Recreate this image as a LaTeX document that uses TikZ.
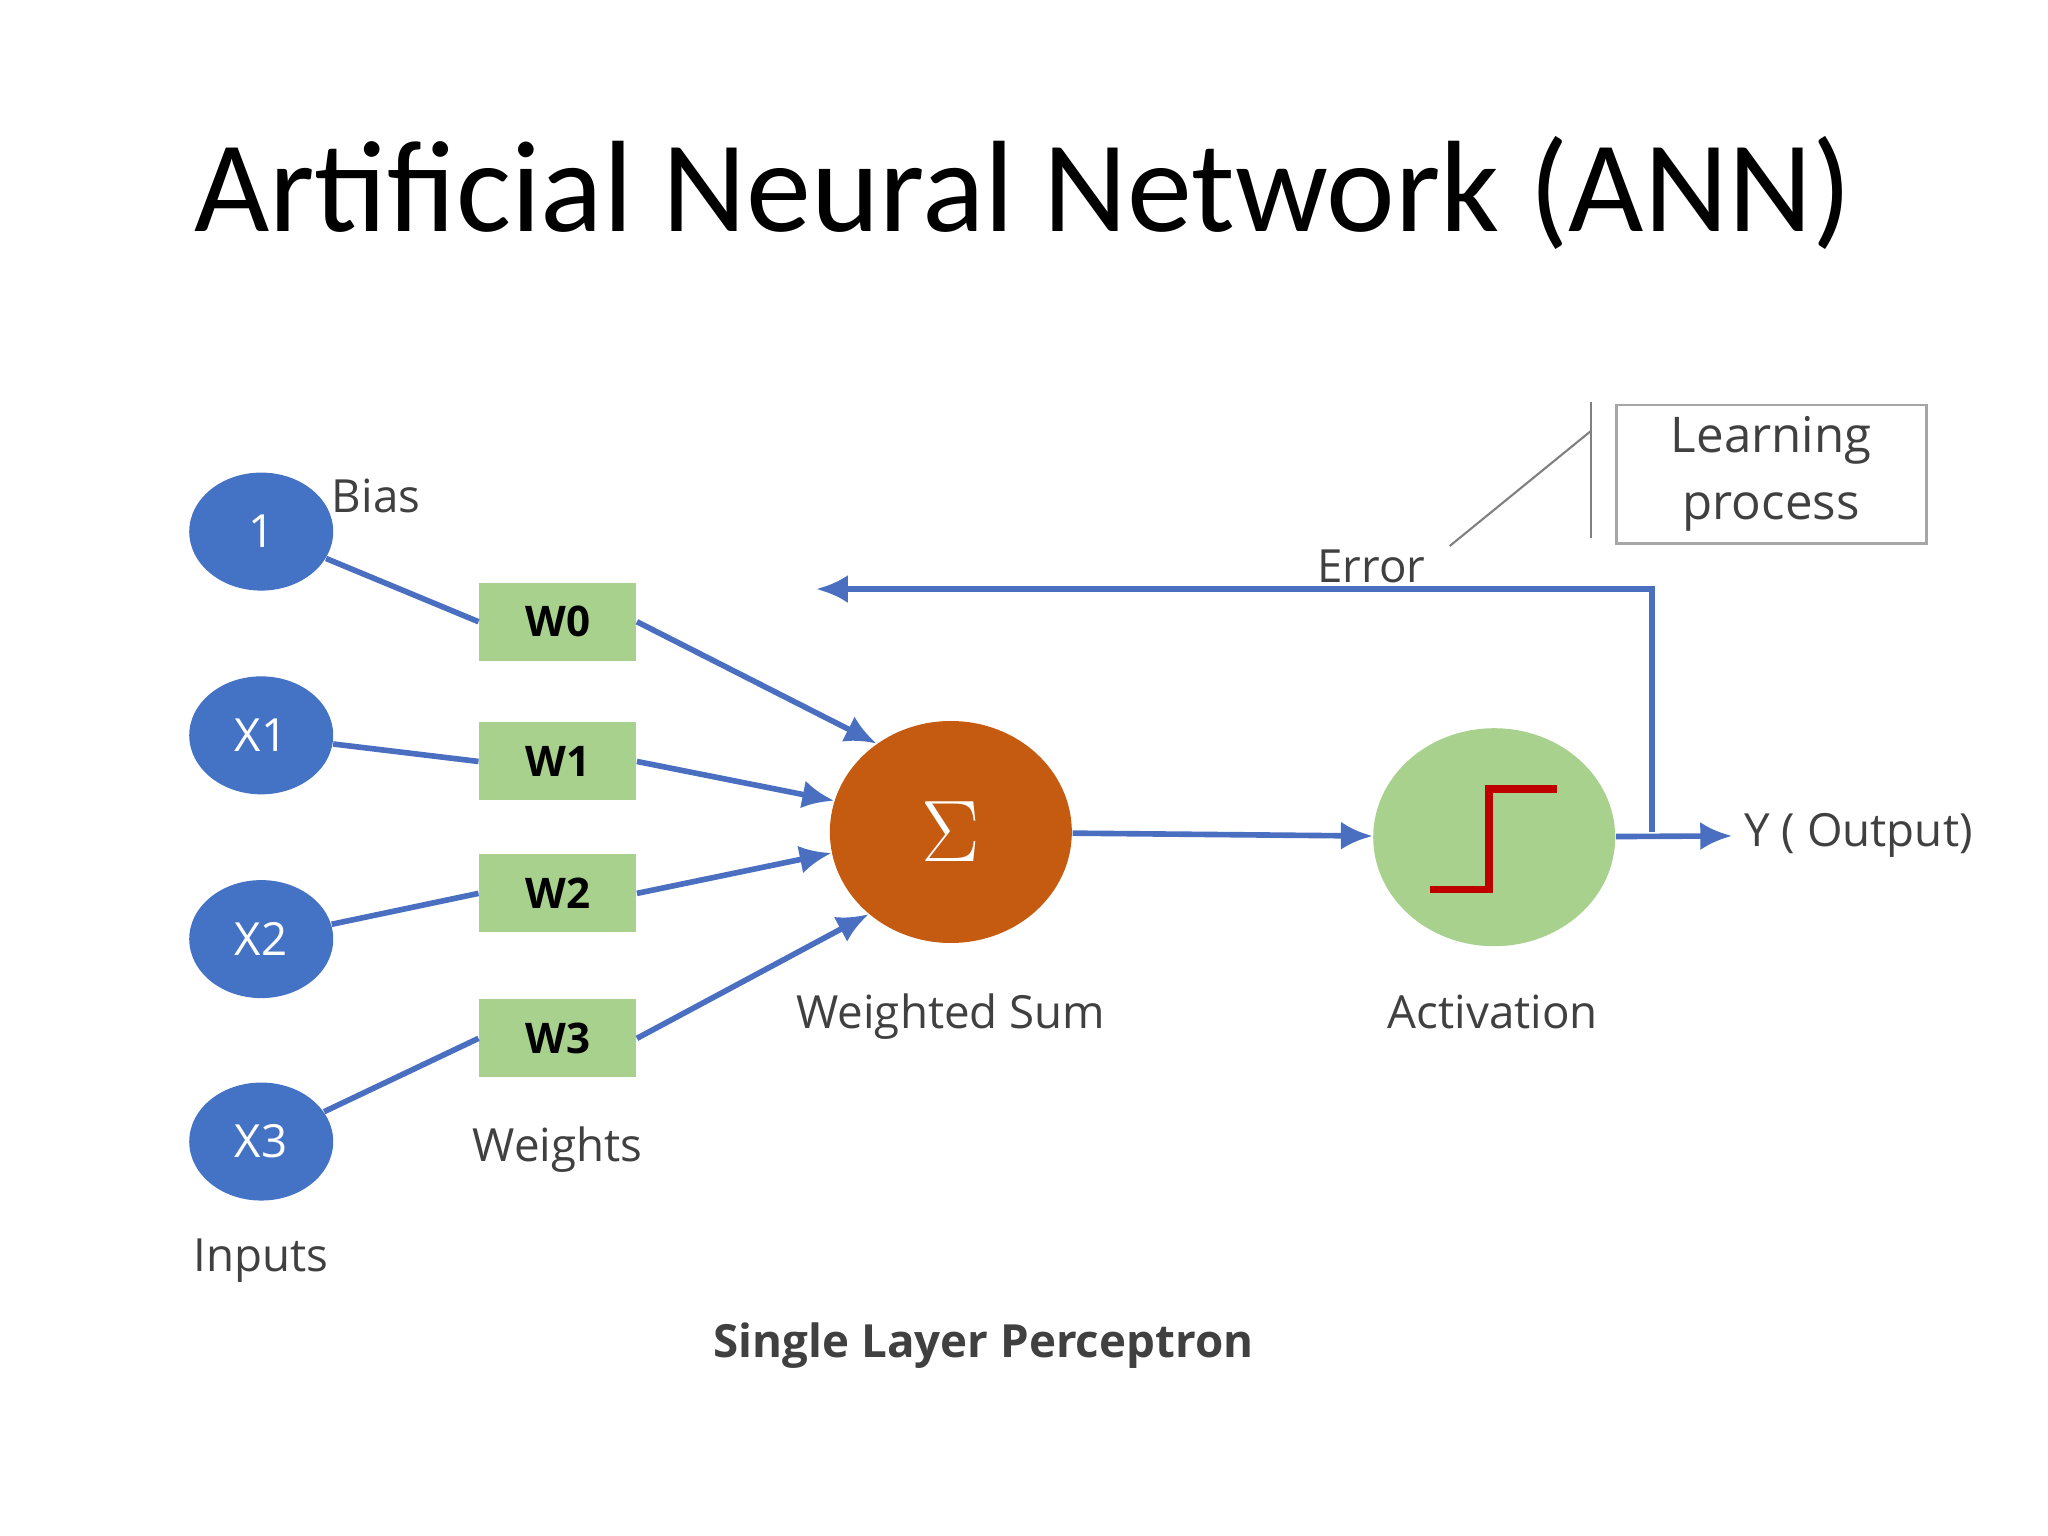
\documentclass[tikz,border=0pt]{standalone}
\usepackage{fontspec}
\setmainfont{Open Sans}
\newfontfamily\titlefont{Carlito}
\usetikzlibrary{shapes.geometric,arrows.meta}

\definecolor{inblue}{HTML}{4472C4}
\definecolor{wgreen}{HTML}{A9D18E}
\definecolor{sumorange}{HTML}{C55A11}
\definecolor{linkblue}{HTML}{4A6FC0}
\definecolor{lbl}{HTML}{404040}

\begin{document}
\begin{tikzpicture}[x=0.01306cm,y=-0.01306cm,
	innode/.style={ellipse, fill=inblue, minimum width=1.44cm, minimum height=1.18cm, text=white, font=\fontsize{13}{15}\selectfont},
	wnode/.style={rectangle, fill=wgreen, minimum width=1.57cm, minimum height=0.78cm, font=\bfseries\fontsize{12}{14}\selectfont},
	lbl/.style={text=lbl, font=\fontsize{13}{15}\selectfont},
	link/.style={linkblue, line width=1.6pt},
	arr/.style={link, -{Latex[length=9pt,width=8pt]}}
]
\useasboundingbox (0,0) rectangle (1568,1176);
\node[font=\titlefont\fontsize{37}{40}\selectfont] (title) at (783,148) {Artificial Neural Network (ANN)};

% inputs and weights
\node[innode] (b) at (200,407) {1};
\node[innode] (x1) at (200,563) {X1};
\node[innode] (x2) at (200,719) {X2};
\node[innode] (x3) at (200,874) {X3};
\node[wnode] (w0) at (427,476) {W0};
\node[wnode] (w1) at (427,583) {W1};
\node[wnode] (w2) at (427,684) {W2};
\node[wnode] (w3) at (427,795) {W3};

% sum and activation
\node[ellipse, fill=sumorange, minimum width=2.42cm, minimum height=2.22cm, text=white, font=\fontsize{40}{44}\selectfont] (sum) at (728,637) {$\Sigma$};
\node[ellipse, fill=wgreen, minimum width=2.42cm, minimum height=2.18cm] (act) at (1144,641) {};
\draw[red!75!black, line width=2.2pt] (1095,681) -- (1140,681) -- (1140,604) -- (1192,604);

\node[lbl, anchor=west] (out) at (1326,640) {Y ( Output)};
\coordinate (tap) at (1265,637);
\coordinate (back) at (625,451);

% labels
\node[lbl] (bias) at (288,380) {Bias};
\node[lbl] (wts) at (427,880) {Weights};
\node[lbl] (inp) at (200,965) {Inputs};
\node[lbl] (ws) at (728,778) {Weighted Sum};
\node[lbl] (actl) at (1143,775) {Activation};
\node[lbl] (err) at (1050,434) {Error};
\node[font=\bfseries\fontsize{13}{15}\selectfont, text=lbl] (slp) at (753,1030) {Single Layer Perceptron};
\node[draw=gray!70, line width=0.8pt, minimum width=3.1cm, minimum height=1.17cm, align=center, lbl, font=\fontsize{14}{19}\selectfont] (learn) at (1356,363) {Learning\\process};
\coordinate (c1) at (1110,418);
\coordinate (c2) at (1218,330);
\coordinate (t1) at (1218,308);
\coordinate (t2) at (1218,412);

% connectors
\draw[link] (b) -- (w0.west);
\draw[link] (x1) -- (w1.west);
\draw[link] (x2) -- (w2.west);
\draw[link] (x3) -- (w3.west);
\draw[arr] (w0.east) -- (sum.130);
\draw[arr] (w1.east) -- (sum.165);
\draw[arr] (w2.east) -- (sum.190);
\draw[arr] (w3.east) -- (sum.225);
\draw[arr] (sum) -- (act);
\draw[arr] (act) -- (out.west);
\draw[arr] (tap) -- (1265,451) -- (back);
\draw[gray, line width=0.6pt] (c1) -- (c2);
\draw[gray, line width=0.6pt] (t1) -- (t2);
\end{tikzpicture}
\end{document}
